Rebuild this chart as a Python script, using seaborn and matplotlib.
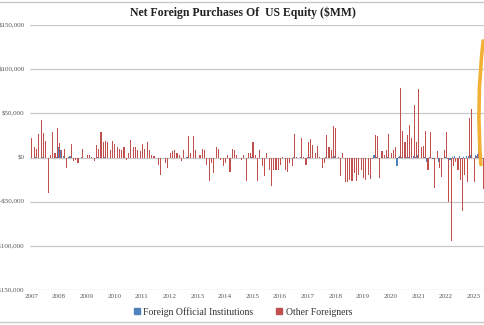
import numpy as np
import pandas as pd
import matplotlib
matplotlib.use("Agg")
import matplotlib.pyplot as plt
from matplotlib.ticker import FuncFormatter
from matplotlib.lines import Line2D
import seaborn as sns

# ---------------- data ($MM, read in thousands) ----------------
years = list(range(2007, 2024))

other_foreigners_k = [
    # 2007
    22, 12, 10, 27, 42, 28, 19, -40, 3, 29, 5, 33,
    # 2008
    16, 8, 10, -12, 1, 15, -4, -3, -6, -1, 10, -1,
    # 2009
    3, 3, 1, -4, 14, 10, 29, 18, 19, 17, 9, 19,
    # 2010
    15, 12, 10, 9, 12, -3, 5, 20, 12, 12, 9, 7,
    # 2011
    15, 10, 17, 9, 3, 2, -1, -9, -20, -1, -6, -12,
    # 2012
    5, 7, 9, 5, 3, -4, 8, 1, 24, 5, 24, 9,
    # 2013
    -1, 3, 10, 9, -8, -27, -6, -17, 12, 10, -3, -10,
    # 2014
    -6, 3, -16, 10, 9, 3, -1, -3, 3, -27, 5, 5,
    # 2015
    17, 3, -27, 8, -10, -21, 5, -14, -32, -14, -14, -14,
    # 2016
    -8, 1, -14, -16, -6, -10, 27, 1, -1, 22, 1, -8,
    # 2017
    18, 21, 14, 5, 13, 1, -12, -6, 26, 12, 9, 36,
    # 2018
    33, 1, -21, 5, -28, -28, -25, -27, -18, -27, -20, -14,
    # 2019
    -23, -25, -20, -24, -2, 26, 24, -23, 7, 3, 9, 27,
    # 2020
    5, 9, 12, 1, 79, 30, 17, 26, 37, 22, 60, 18,
    # 2021
    77, 12, 13, 30, -14, 29, -2, -35, 7, -12, -22, 9,
    # 2022
    29, -50, -95, -10, -5, -14, -25, -61, -20, -28, 45, 55,
    # 2023
    -28, 2, 59, -5, -36,
]

foreign_official_k = [
    # 2007
    0, 0, 1, 0, 0, 1, 0, 0, 0, 0, 0, 1,
    # 2008
    12, 8, 2, -1, 0, 2, 0, -1, 0, 0, 1, 0,
    # 2009
    0, 0, 0, 0, 0, 1, 0, 0, 1, 0, 0, 0,
    # 2010
    0, 0, 0, 0, 0, -1, 0, 0, 0, 0, 0, 0,
    # 2011
    0, 0, 0, 0, 0, 0, 0, 0, -1, 0, 0, 0,
    # 2012
    0, 0, 0, 0, 0, 0, 0, 0, 1, 0, 0, 0,
    # 2013
    0, 0, 0, 0, 0, -1, 0, -1, 0, 0, 0, 0,
    # 2014
    0, 0, -1, 0, 0, 0, 0, 0, 0, -1, 0, 0,
    # 2015
    1, 0, -1, 0, 0, -1, 0, 0, -1, 0, 0, 0,
    # 2016
    0, 0, 0, 0, 0, 0, 1, 0, 0, 1, 0, 0,
    # 2017
    1, 1, 0, 0, 0, 0, -1, 0, 1, 0, 0, 1,
    # 2018
    2, 0, -1, 0, -1, 0, 0, -1, 0, -1, 0, 0,
    # 2019
    0, 0, 0, 0, 0, 3, 1, 0, 0, 0, 0, 1,
    # 2020
    0, 0, 0, -10, 2, 1, 0, 1, 1, 0, 2, 1,
    # 2021
    3, 0, 0, 1, -5, 1, 0, -2, 0, -5, -1, 0,
    # 2022
    1, -2, -3, 1, 2, -1, 2, -2, 1, 2, 2, 3,
    # 2023
    -1, 3, 4, 0, -2,
]

series_names = ["Foreign Official Institutions", "Other Foreigners"]
series_colors = ["#4F81BD", "#C0504D"]
title_text = "Net Foreign Purchases Of  US Equity ($MM)"

n = len(other_foreigners_k)
month_idx = np.arange(n)
df = pd.concat([
    pd.DataFrame({"m": month_idx, "value": np.array(foreign_official_k) * 1000,
                  "series": series_names[0]}),
    pd.DataFrame({"m": month_idx, "value": np.array(other_foreigners_k) * 1000,
                  "series": series_names[1]}),
])

# ---------------- figure ----------------
sns.set_theme(style="white")
plt.rcParams["font.family"] = ["Liberation Serif", "DejaVu Serif"]

fig = plt.figure(figsize=(4.85, 3.25), dpi=100)
ax = fig.add_axes([30 / 485, 1 - 290 / 325, 1 - 30 / 485 + 0.002, (290 - 25) / 325])

for yv in range(-150000, 150001, 50000):
    ax.axhline(yv, color="#C8C8C8", lw=0.9, zorder=0)

sns.barplot(data=df, x="m", y="value", hue="series", order=list(month_idx),
            hue_order=series_names, palette=series_colors, width=0.95,
            saturation=1, edgecolor="none", errorbar=None, ax=ax, legend=False,
            zorder=2)

ax.set_ylim(-150000, 150000)
ax.set_xlim(-0.6, 197.4)
ax.set_yticks(range(-150000, 150001, 50000))
ax.yaxis.set_major_formatter(FuncFormatter(
    lambda v, p: ("-$" if v < 0 else "$") + f"{abs(v):,.0f}"))
ax.set_xticks(range(0, n, 12))
ax.set_xticklabels([str(y) for y in years])
ax.tick_params(axis="both", length=0, labelsize=5, labelcolor="#555555")
ax.tick_params(axis="x", pad=3)
ax.tick_params(axis="y", pad=4)
ax.set_xlabel("")
ax.set_ylabel("")
for s in ax.spines.values():
    s.set_visible(False)

# orange highlight arrow on the latest data point
last_m = n - 1
ax.annotate("", xy=(last_m + 0.2, 132000), xytext=(last_m - 0.8, -8000),
            arrowprops=dict(arrowstyle="-", color="#F2B136", lw=2.6,
                            shrinkA=0, shrinkB=0,
                            connectionstyle="arc3,rad=-0.05"),
            annotation_clip=False, zorder=5)

fig.text(0.5, 1 - 13 / 325, title_text, ha="center", va="center",
         fontsize=8.5, fontweight="bold", color="#222222")

handles = [Line2D([0], [0], marker="s", color="none", markerfacecolor=c,
                  markeredgecolor=c, markersize=4.5) for c in series_colors]
fig.legend(handles, series_names, loc="center", bbox_to_anchor=(0.5, 1 - 312 / 325),
           ncol=2, frameon=False, fontsize=7, handlelength=0.8, handletextpad=0.3,
           columnspacing=2.2, labelcolor="#333333")

fig.add_artist(Line2D([0, 1], [1 - 1.5 / 325, 1 - 1.5 / 325], color="#C8C8C8", lw=1))
fig.add_artist(Line2D([0, 1], [1 - 322 / 325, 1 - 322 / 325], color="#C8C8C8", lw=1))

fig.savefig("out.png", dpi=100)
